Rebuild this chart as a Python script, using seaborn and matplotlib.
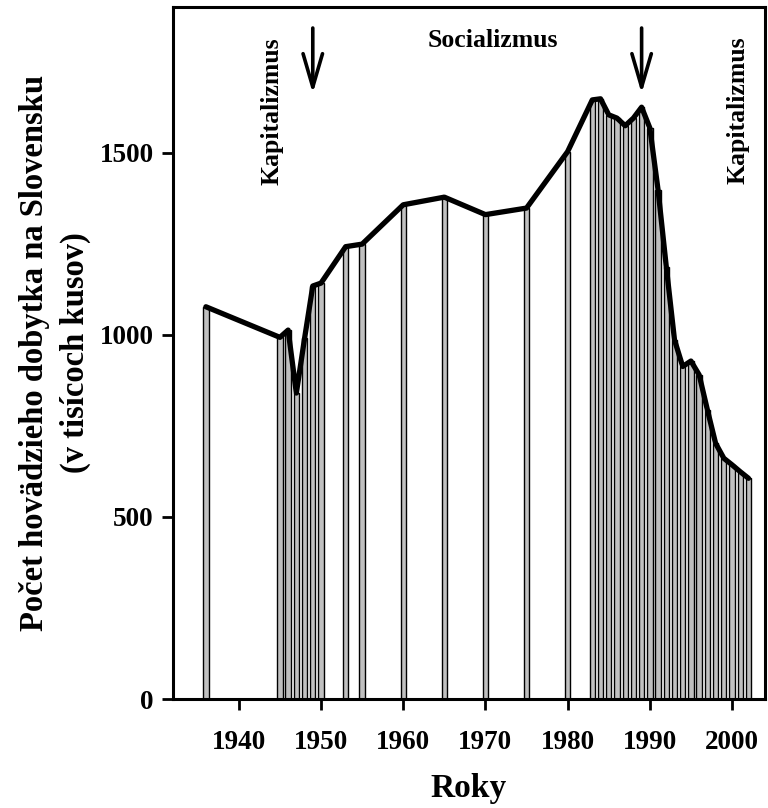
import numpy as np
import pandas as pd
import matplotlib
matplotlib.use('Agg')
import matplotlib.pyplot as plt
import seaborn as sns

# roky a pocet kusov (tisice)
years = [1936, 1945, 1946, 1947, 1948, 1949, 1950, 1953, 1955, 1960, 1965, 1970,
         1975, 1980, 1983, 1984, 1985, 1986, 1987, 1988, 1989, 1990, 1991, 1992,
         1993, 1994, 1995, 1996, 1997, 1998, 1999, 2000, 2001, 2002]
cattle = [1077, 993, 1013, 840, 990, 1134, 1142, 1242, 1249, 1357, 1378, 1330,
          1348, 1503, 1645, 1648, 1604, 1595, 1574, 1595, 1625, 1568, 1398, 1187,
          986, 913, 928, 890, 794, 702, 661, 643, 624, 606]

x_ticks = [1940, 1950, 1960, 1970, 1980, 1990, 2000]
y_ticks = [0, 500, 1000, 1500]

df = pd.DataFrame({'rok': years, 'pocet': cattle})

sns.set_style('ticks', {'axes.edgecolor': 'black', 'text.color': 'black',
                        'axes.labelcolor': 'black', 'xtick.color': 'black',
                        'ytick.color': 'black'})
plt.rcParams['font.family'] = ['Liberation Serif', 'DejaVu Serif']
plt.rcParams['font.weight'] = 'bold'

fig = plt.figure(figsize=(7.68, 8.08), dpi=100)
ax = fig.add_axes([0.2253, 0.1349, 0.996 - 0.2253, 0.9913 - 0.1349])

sns.barplot(data=df, x='rok', y='pocet', native_scale=True, width=0.65,
            color='#c0c0c0', saturation=1, edgecolor='black', linewidth=1,
            ax=ax, zorder=2)
sns.lineplot(data=df, x='rok', y='pocet', color='black', linewidth=3.8,
             ax=ax, zorder=3)

ax.set_xlim(1932, 2004)
ax.set_ylim(0, 1900)
ax.set_xticks(x_ticks)
ax.set_yticks(y_ticks)
ax.tick_params(axis='both', labelsize=19.5, width=2, length=8, direction='out',
               colors='black')
ax.tick_params(axis='x', pad=14)
ax.tick_params(axis='y', pad=6)
for lab in ax.get_xticklabels() + ax.get_yticklabels():
    lab.set_fontweight('bold')
for s in ax.spines.values():
    s.set_linewidth(2.2)
    s.set_color('black')
    s.set_visible(True)

ax.set_xlabel('Roky', fontsize=24, fontweight='bold', labelpad=13)
ax.set_ylabel('Počet hovädzieho dobytka na Slovensku\n(v tisícoch kusov)',
              fontsize=23.5, fontweight='bold', labelpad=6, linespacing=1.4)

# obdobia
arrow = dict(arrowstyle='->,head_length=1.2,head_width=0.35', lw=2.6,
             color='black', mutation_scale=20)
ax.annotate('', xy=(1949, 1655), xytext=(1949, 1850), arrowprops=arrow)
ax.annotate('', xy=(1989, 1655), xytext=(1989, 1850), arrowprops=arrow)
ax.text(1944.0, 1615, 'Kapitalizmus', rotation=90, ha='center', va='center',
        fontsize=18.5, fontweight='bold')
ax.text(2000.7, 1616, 'Kapitalizmus', rotation=90, ha='center', va='center',
        fontsize=18.5, fontweight='bold')
ax.text(1970.9, 1807, 'Socializmus', ha='center', va='center',
        fontsize=18.5, fontweight='bold')

fig.savefig('out.png', dpi=100)
